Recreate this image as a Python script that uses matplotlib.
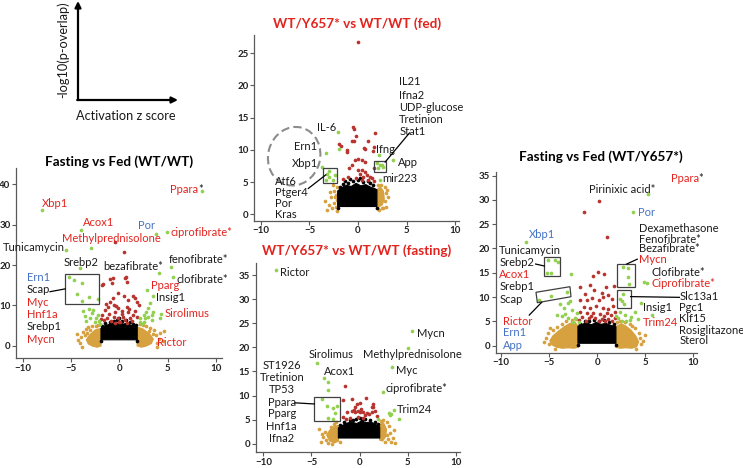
import matplotlib
matplotlib.use('Agg')
import matplotlib.pyplot as plt
from matplotlib.patches import Rectangle, Polygon, Ellipse
from matplotlib.transforms import ScaledTranslation

plt.rcParams['font.family'] = ['Lato', 'DejaVu Sans']

# ---------------- data ----------------
# Panel 1: Fasting vs Fed (WT/WT)
p1_green_x = [8.6, -8.0, -3.96, 3.83, 4.9, -5.55, -2.93, -4.1, 4.1, 5.35, 5.6,
              -5.2, -4.7, -3.86, -4.4, -3.1, -3.9, -2.24,
              2.9, 3.45, 3.2, 3.0, 2.76, 2.5, 2.1, 2.66, 3.0, 3.35, 3.5, 2.5, 2.1, 4.3, 4.2, 3.35, 2.3,
              -3.8, -3.1, -2.85, -2.7, -2.4, -3.0, -2.07, -3.4, -2.55, -2.2, -3.6, -2.0]
p1_green_y = [38.2, 33.5, 28.7, 27.7, 28.2, 23.6, 24.3, 19.2, 18.0, 19.4, 17.1,
              17.0, 16.3, 15.6, 12.8, 12.2, 11.0, 11.7,
              13.8, 12.3, 10.5, 9.3, 8.4, 7.6, 6.8, 6.8, 7.2, 7.6, 8.4, 6.0, 5.8, 8.0, 7.0, 6.3, 5.4,
              8.7, 9.0, 8.2, 8.9, 6.8, 6.8, 6.2, 6.2, 6.0, 7.6, 7.4, 5.3]
p1_red_x = [-0.5, 0.5, -1.8, -1.7, -1.0, -0.7, -0.8, 0.6, 0.8, 0.7, -0.1, 1.45, 1.6, -1.0, -0.6, 0.9,
            1.8, 2.0, 0.8, -0.1, -1.5, -1.1, -0.4, 0.25, 0.9, 1.45, 1.8, -1.8, -1.3, -0.6, -0.1, 0.4,
            1.1, -1.6, -0.9, 0.1, 0.6, 1.3, -1.2, -0.3, 0.3, 1.0, 1.6, -1.9, -0.7, 0.5, -1.4, 0.0, 0.8, -0.5]
p1_red_y = [25.6, 23.2, 15.1, 15.3, 16.5, 16.7, 15.5, 16.7, 15.9, 17.0, 13.2, 12.3, 11.8, 10.9, 10.1, 11.3,
            10.9, 10.1, 9.7, 9.3, 8.9, 8.0, 8.4, 8.0, 8.4, 7.6, 7.2, 7.6, 6.8, 7.2, 6.8, 7.2,
            6.8, 6.3, 6.2, 6.0, 6.4, 6.1, 9.5, 9.8, 8.7, 9.1, 8.6, 6.6, 11.9, 12.4, 10.4, 5.9, 5.6, 5.7]
p1_orange_x = [-4.3, -4.0, -4.4, -3.8, -3.5, -3.2, -2.8, -2.4, -4.1, -3.9, -2.2, -3.0, -3.6, -3.3,
               3.9, 4.1, 3.8, 4.2, 3.6, 3.2, 2.8, 2.4, 4.6, 4.5, 3.9, 2.1, 3.5, 3.1]
p1_orange_y = [1.5, 2.2, 3.0, 3.5, 4.2, 4.6, 5.0, 4.8, 0.6, -0.2, 5.2, 4.0, 2.6, 3.3,
               0.8, 1.6, 2.6, 3.3, 3.9, 4.3, 4.8, 5.1, 3.6, 1.2, -0.2, 5.3, 2.9, 3.7]
p1_orcore_l_x = [-1.9, -1.9, -2.3, -2.8, -3.2, -3.4, -3.1, -2.5]
p1_orcore_l_y = [4.3, 0.0, -0.3, 0.0, 0.5, 1.5, 2.6, 3.9]
p1_orcore_r_x = [1.85, 1.85, 2.3, 2.8, 3.3, 3.5, 3.1, 2.4]
p1_orcore_r_y = [4.6, 0.0, -0.3, 0.0, 0.6, 1.7, 3.0, 4.2]
p1_core_x = [-1.9, -1.9, -1.6, -1.2, -0.8, -0.4, 0.0, 0.4, 0.8, 1.2, 1.5, 1.85, 1.85]
p1_core_y = [1.5, 4.3, 4.9, 5.2, 5.6, 5.3, 5.8, 5.4, 5.6, 5.1, 4.9, 4.6, 1.5]
p1_black_x = [-1.5, -1.0, -0.6, -0.2, 0.3, 0.7, 1.1, 1.4, -1.8, 1.7, 0.0, -1.9, 1.85]
p1_black_y = [5.6, 6.0, 6.2, 6.4, 6.1, 6.3, 5.8, 5.5, 5.0, 5.2, 6.8, 1.1, 1.1]

# Panel 2: WT/Y657* vs WT/WT (fed)
p2_green_x = [-2.1, -2.0, -3.3, -3.7, -2.96, -3.16, -2.96, -3.3, -2.4, -2.6,
              2.2, 2.0, 2.3, 2.5, 2.1, 2.6, 3.57, 2.27]
p2_green_y = [12.7, 10.1, 9.5, 7.3, 6.7, 6.3, 5.8, 5.3, 6.1, 5.3,
              9.2, 7.9, 7.6, 7.7, 7.2, 7.4, 8.4, 5.3]
p2_red_x = [-0.03, -0.48, -0.2, 1.75, -1.93, -1.8, -0.65, 1.06, -1.17, 0.72, 1.65, -0.3, 0.05, 0.4, 0.7,
            -0.65, 0.38, 0.72, 0.9, 1.2, 0.55, 0.2, 1.4, 1.06, 0.38, -1.0, -0.38, -1.17, 0.62, 1.58,
            -0.4, 1.6, -0.9, -1.5, 1.7, 0.0, -0.2]
p2_red_y = [26.7, 13.6, 12.2, 12.6, 10.9, 10.6, 11.3, 11.3, 10.0, 10.1, 10.5, 8.4, 8.5, 8.4, 8.1,
            7.65, 6.9, 6.6, 6.1, 5.85, 5.85, 6.3, 5.6, 5.3, 5.3, 5.85, 13.2, 9.7, 10.2, 9.8,
            11.4, 7.2, 7.1, 5.4, 5.2, 6.9, 5.6]
p2_orange_x = [-2.2, -2.5, -2.3, -2.8, -2.2, -2.5, -3.0, -2.3, -2.7, -3.2, -2.2, -2.6, -3.4, -2.9, -2.4,
               2.1, 2.4, 2.8, 2.9, 2.8, 2.9, 2.5, 2.2, 3.1, 2.6, 2.0, 3.0]
p2_orange_y = [4.2, 3.6, 3.0, 2.6, 2.2, 1.8, 1.5, 1.2, 0.9, 0.6, 0.5, 4.5, 2.0, 3.4, 2.6,
               4.5, 4.6, 4.2, 3.3, 2.0, 1.2, 0.9, 0.7, 2.7, 1.0, 0.9, 3.8]
p2_orcore_r_x = [1.95, 1.95, 2.3, 2.6, 2.7, 2.5, 2.2]
p2_orcore_r_y = [1.4, 3.8, 4.2, 3.6, 2.4, 1.5, 1.2]
p2_core_x = [-2.1, -2.1, -1.7, -1.2, -0.7, -0.2, 0.3, 0.8, 1.3, 1.7, 1.95, 1.95]
p2_core_y = [1.2, 3.6, 4.1, 4.5, 4.3, 4.8, 4.4, 4.6, 4.2, 4.0, 3.8, 1.2]
p2_black_x = [-1.9, -1.5, -1.0, -0.5, 0.0, 0.5, 1.0, 1.5, -0.8, 0.2, -2.1, 1.95, -1.3, 1.2]
p2_black_y = [4.2, 4.7, 4.9, 5.1, 5.3, 5.0, 5.1, 4.6, 5.4, 5.6, 0.9, 0.9, 5.2, 4.8]

# Panel 3: WT/Y657* vs WT/WT (fasting)
p3_green_x = [-8.68, 5.49, 5.07, -4.39, 3.41, -3.66, -3.24, -3.3, 2.48,
              -3.9, -3.35, -2.75, -2.3, -2.55, -3.3, -2.75,
              3.59, 3.1, 3.16, 4.1, 1.95, 3.24]
p3_green_y = [35.95, 23.4, 19.8, 16.8, 15.85, 13.6, 12.9, 11.2, 10.7,
              9.3, 7.85, 7.4, 7.9, 6.3, 5.3, 5.2,
              7.1, 6.4, 5.9, 5.2, 5.2, 6.1]
p3_red_x = [-1.55, -1.75, 0.64, -0.3, -0.81, -0.5, -0.15, 0.0, 1.43, 1.27, -1.35, -1.75, -1.4, 0.62,
            0.95, 1.78, -0.81, 0.05, -0.47, 0.2, 0.4, 1.27, -1.0, -0.6, 0.75, 1.6, 1.45, -0.2, 0.4]
p3_red_y = [12.07, 9.0, 9.5, 8.3, 6.9, 6.7, 6.9, 6.5, 7.7, 6.55, 6.5, 5.65, 5.2, 5.9,
            6.2, 5.7, 9.3, 8.4, 7.6, 7.3, 6.55, 7.6, 5.4, 7.0, 6.3, 6.9, 8.3, 5.5, 5.3]
p3_orange_x = [-3.6, -3.8, -4.2, -3.5, -3.0, -2.7, -2.4, -4.0, -3.3, -2.0, -3.9, -2.9,
               2.9, 3.1, 3.2, 3.5, 3.0, 2.6, 3.3, 2.2, 3.6, 2.9, 3.7, 2.4]
p3_orange_y = [2.4, 1.5, 3.0, 0.8, 3.4, 4.2, 4.6, 0.3, 0.1, 0.3, 2.0, 0.0,
               4.6, 3.6, 2.2, 1.3, 0.9, 0.3, 0.4, 4.7, 2.8, 1.9, 0.2, 5.0]
p3_orcore_l_x = [-2.2, -2.2, -2.6, -3.1, -3.4, -3.1, -2.6]
p3_orcore_l_y = [3.8, 0.6, 0.2, 0.6, 1.8, 2.8, 3.6]
p3_orcore_r_x = [2.1, 2.1, 2.5, 2.8, 2.7, 2.4]
p3_orcore_r_y = [0.8, 4.0, 4.3, 3.0, 1.5, 0.6]
p3_core_x = [-2.2, -2.2, -1.8, -1.3, -0.8, -0.3, 0.2, 0.7, 1.2, 1.7, 2.1, 2.1]
p3_core_y = [1.2, 3.3, 3.8, 4.3, 4.5, 4.2, 4.7, 4.4, 4.5, 4.0, 3.5, 1.2]
p3_black_x = [-1.6, -1.0, -0.4, 0.1, 0.6, 1.1, 1.6, -2.0, 1.9, -0.7, 0.3]
p3_black_y = [4.6, 5.0, 5.2, 5.4, 5.1, 5.0, 4.6, 4.0, 4.2, 4.9, 4.9]

# Panel 4: Fasting vs Fed (WT/Y657*)
p4_green_x = [5.33, 3.77, -7.42,
              -5.07, -4.38, -4.1, -5.25, -4.8, -2.73,
              -6.0, -4.8, -3.15,
              2.67, 3.25, 3.25, 3.32,
              2.65, 2.37, 2.54, 2.79,
              4.92, 5.15, 4.55, 5.67,
              -3.87, -3.0, -3.5, -2.63, -2.1, -4.2, -3.7, -3.0, -2.3, -1.94, -2.5, -3.3, -2.8,
              2.39, 2.9, 3.4, 2.2, 3.0, 3.55, 3.9, 2.0, 2.6, 4.2]
p4_green_y = [31.15, 27.6, 21.3,
              17.6, 17.6, 17.3, 15.0, 14.9, 14.7,
              9.3, 10.2, 11.1,
              16.1, 15.9, 14.2, 12.6,
              10.6, 9.6, 9.2, 8.5,
              13.05, 12.9, 8.7, 6.3,
              8.6, 8.85, 7.7, 7.35, 6.8, 6.3, 6.1, 5.8, 5.8, 4.9, 4.8, 6.6, 9.2,
              7.0, 6.3, 5.3, 5.6, 5.0, 6.0, 7.0, 6.2, 5.1, 5.5]
p4_red_x = [0.24, -1.32, 1.0, 0.05, 0.74, -1.78, -0.75, -0.3, 0.48, 1.17, 1.7, -1.78, -1.07, 0.15, 0.65,
            1.5, -1.42, -0.75, -0.07, 0.62, 1.1, 1.6, -1.78, -1.1, -0.4, 0.3, 1.0, 1.45, -1.6, -0.9,
            -0.2, 0.5, 1.15, 1.85, -0.4, -1.3, 0.9, -0.5, 1.9, -1.9, -1.2, 0.2, 0.8, 1.5, -0.6, 0.7]
p4_red_y = [29.8, 27.6, 22.4, 15.2, 14.75, 12.1, 12.5, 11.5, 10.8, 10.4, 12.3, 9.4, 9.4, 9.4, 10.1,
            9.7, 8.0, 7.8, 8.2, 7.8, 7.5, 8.1, 7.0, 6.7, 6.7, 6.6, 6.7, 6.4, 6.0, 5.6,
            5.6, 5.4, 5.4, 5.8, 14.4, 10.6, 12.0, 9.9, 7.0, 5.2, 5.1, 5.0, 5.1, 5.0, 6.2, 6.1]
p4_orange_x = [-5.1, -5.3, -5.0, -4.6, -4.2, -3.7, -3.2, -2.6, -2.2, -5.5, -4.4, -4.9,
               4.5, 4.6, 4.3, 3.9, 3.4, 2.9, 2.4, 4.8, 4.0, 5.0, 3.6, 2.1]
p4_orange_y = [2.6, 1.5, 0.4, 3.2, 3.9, 4.5, 5.0, 5.3, 5.4, 0.8, -0.6, 3.6,
               1.6, 0.4, 2.7, 3.6, 4.4, 4.8, 5.0, 1.0, -0.6, 2.2, 4.0, 4.8]
p4_orcore_l_x = [-2.0, -2.0, -2.4, -3.0, -3.6, -4.2, -4.7, -4.9, -4.6, -4.0, -3.4, -2.8, -2.3]
p4_orcore_l_y = [4.0, -0.3, -0.5, -0.4, -0.5, -0.3, 0.2, 1.0, 2.0, 3.0, 3.9, 4.6, 4.8]
p4_orcore_r_x = [1.95, 1.95, 2.4, 3.0, 3.6, 4.1, 4.3, 4.0, 3.5, 3.0, 2.5]
p4_orcore_r_y = [3.9, -0.3, -0.5, -0.4, -0.5, -0.2, 0.8, 2.0, 3.2, 4.0, 4.5]
p4_core_x = [-2.0, -2.0, -1.6, -1.1, -0.6, -0.1, 0.4, 0.9, 1.4, 1.95, 1.95]
p4_core_y = [0.5, 4.0, 4.4, 4.7, 4.3, 4.8, 4.4, 4.6, 4.2, 3.9, 0.5]
p4_black_x = [-1.8, -1.3, -0.8, -0.3, 0.2, 0.7, 1.2, 1.7, -2.0, 1.95]
p4_black_y = [4.5, 5.0, 5.1, 5.3, 5.0, 5.2, 4.9, 4.5, 0.2, 0.2]

x_ticks = [-10, -5, 0, 5, 10]
p1_yticks = [0, 10, 20, 30, 40]
p2_yticks = [0, 5, 10, 15, 20, 25]
p3_yticks = [0, 5, 10, 15, 20, 25, 30, 35]
p4_yticks = [0, 5, 10, 15, 20, 25, 30, 35]

titles = ["Fasting vs Fed (WT/WT)", "WT/Y657* vs WT/WT (fed)",
          "WT/Y657* vs WT/WT (fasting)", "Fasting vs Fed (WT/Y657*)"]

# ---------------- styles ----------------
GREEN = '#92D050'
DRED = '#B8342E'
ORANGE = '#D6A13E'
TRED = '#E3231E'
TBLUE = '#4472C4'
TBLK = '#1A1A1A'
AXC = '#595959'
LFS = 8.0
DOT = 7

W, H = 743, 468
fig = plt.figure(figsize=(W / 100, H / 100), dpi=100)


def px_rect(l, r, t, b):
    return [l / W, 1 - b / H, (r - l) / W, (b - t) / H]


ov = fig.add_axes([0, 0, 1, 1])
ov.set_xlim(0, W)
ov.set_ylim(H, 0)
ov.axis('off')

# schematic
ov.annotate('', xy=(78, 1), xytext=(78, 100),
            arrowprops=dict(arrowstyle='-|>', color='black', lw=1.6, mutation_scale=9, shrinkA=0, shrinkB=0))
ov.annotate('', xy=(178, 100), xytext=(77.2, 100),
            arrowprops=dict(arrowstyle='-|>', color='black', lw=1.6, mutation_scale=9, shrinkA=0, shrinkB=0))
ov.text(63, 50, '-log10(p-overlap)', rotation=90, ha='center', va='center', fontsize=9.2, color=TBLK)
ov.text(126, 116, 'Activation z score', ha='center', va='center', fontsize=9.2, color=TBLK)

title_pos = [(119, 162, 'black'), (357, 24, TRED), (357, 251, TRED), (601, 157, 'black')]
for t, (tx, ty, tc) in zip(titles, title_pos):
    ov.text(tx, ty, t, ha='center', va='center', fontsize=9.7, fontweight='bold', color=tc)


def make_ax(rect, xl, yl, yt):
    ax = fig.add_axes(rect)
    ax.set_facecolor('none')
    ax.set_xlim(*xl)
    ax.set_ylim(*yl)
    ax.set_xticks(x_ticks)
    ax.set_yticks(yt)
    for s in ['top', 'right']:
        ax.spines[s].set_visible(False)
    for s in ['left', 'bottom']:
        ax.spines[s].set_color(AXC)
        ax.spines[s].set_linewidth(0.9)
    ax.tick_params(direction='out', length=3, width=0.8, color=AXC, labelsize=7, pad=1,
                   labelcolor='#222222')
    for lab in ax.get_xticklabels() + ax.get_yticklabels():
        lab.set_fontweight('bold')
    return ax


def draw_points(ax, core_x, core_y, black_x, black_y, orcores, orange_x, orange_y,
                red_x, red_y, green_x, green_y):
    for cx, cy in orcores:
        ax.add_patch(Polygon(list(zip(cx, cy)), closed=True, fc=ORANGE, ec=ORANGE, lw=1.0, zorder=2))
    ax.scatter(orange_x, orange_y, s=DOT, c=ORANGE, linewidths=0, zorder=2)
    ax.add_patch(Polygon(list(zip(core_x, core_y)), closed=True, fc='black', ec='black', lw=0.8, zorder=3))
    ax.scatter(black_x, black_y, s=DOT, c='black', linewidths=0, zorder=3)
    ax.scatter(red_x, red_y, s=DOT, c=DRED, linewidths=0, zorder=4)
    ax.scatter(green_x, green_y, s=DOT, c=GREEN, linewidths=0, zorder=5)


def label(ax, txt, x, y, color=TBLK, ha='left', star=False):
    t = ax.text(x, y, txt, ha=ha, va='center', fontsize=LFS, color=color, zorder=6)
    if star:
        ax.annotate('*', xy=(1, 0.5), xycoords=t, ha='left', va='center', fontsize=LFS, color=TBLK)
    return t


def box(ax, x0, x1, y0, y1):
    ax.add_patch(Rectangle((x0, y0), x1 - x0, y1 - y0, fill=False, ec='#404040', lw=0.9, zorder=6))


def line(ax, x0, y0, x1, y1):
    ax.plot([x0, x1], [y0, y1], color='black', lw=0.9, zorder=6)


# ---------- panel 1 ----------
ax1 = make_ax(px_rect(16, 222, 168, 358), (-10.69, 10.62), (-3.0, 44.0), p1_yticks)
draw_points(ax1, p1_core_x, p1_core_y, p1_black_x, p1_black_y,
            [(p1_orcore_l_x, p1_orcore_l_y), (p1_orcore_r_x, p1_orcore_r_y)],
            p1_orange_x, p1_orange_y, p1_red_x, p1_red_y, p1_green_x, p1_green_y)
label(ax1, 'Ppara', 5.24, 38.6, TRED, star=True)
label(ax1, 'Xbp1', -7.96, 35.3, TRED)
label(ax1, 'Acox1', -3.79, 30.4, TRED)
label(ax1, 'Por', 1.97, 29.8, TBLUE)
label(ax1, 'ciprofibrate*', 5.31, 28.1, TRED)
label(ax1, 'Methylprednisolone', -5.96, 26.5, TRED)
label(ax1, 'Tunicamycin', -12.0, 24.3)
label(ax1, 'Srebp2', -5.79, 20.7)
label(ax1, 'bezafibrate*', -1.65, 19.6)
label(ax1, 'fenofibrate*', 5.07, 21.3)
label(ax1, 'clofibrate*', 5.94, 16.5)
for txt, yy, col in [('Ern1', 17.0, TBLUE), ('Scap', 13.85, TBLK), ('Myc', 10.7, TRED),
                     ('Hnf1a', 7.8, TRED), ('Srebp1', 4.7, TBLK), ('Mycn', 1.6, TRED)]:
    label(ax1, txt, -9.58, yy, col)
label(ax1, 'Pparg', 3.25, 14.9, TRED)
label(ax1, 'Insig1', 3.8, 12.0)
label(ax1, 'Sirolimus', 4.65, 8.0, TRED)
label(ax1, 'Rictor', 3.93, 0.8, TRED)
box(ax1, -5.6, -2.07, 10.3, 17.7)
line(ax1, -7.17, 13.4, -5.6, 14.1)

# ---------- panel 2 ----------
ax2 = make_ax(px_rect(254, 459, 35, 220.7), (-10.72, 10.41), (-1.0, 27.8), p2_yticks)
draw_points(ax2, p2_core_x, p2_core_y, p2_black_x, p2_black_y,
            [(p2_orcore_r_x, p2_orcore_r_y)],
            p2_orange_x, p2_orange_y, p2_red_x, p2_red_y, p2_green_x, p2_green_y)
label(ax2, 'IL-6', -4.2, 13.5)
label(ax2, 'Ern1', -6.6, 10.5)
label(ax2, 'Xbp1', -6.84, 7.9)
for txt, yy in [('Atf6', 5.06), ('Ptger4', 3.36), ('Por', 1.6), ('Kras', -0.1)]:
    label(ax2, txt, -8.56, yy)
for txt, yy in [('IL21', 20.6), ('Ifna2', 18.4), ('UDP-glucose', 16.55), ('Tretinion', 14.75), ('Stat1', 12.9)]:
    label(ax2, txt, 4.26, yy)
label(ax2, 'Ifng', 1.86, 10.1)
label(ax2, 'App', 4.09, 8.1)
label(ax2, 'mir223', 2.54, 5.5)
box(ax2, -3.6, -2.2, 4.9, 7.1)
box(ax2, 1.65, 2.85, 6.5, 8.3)
line(ax2, -5.12, 4.0, -3.33, 6.1)
line(ax2, 5.3, 12.6, 2.8, 8.1)
ell = Ellipse((0, 0), width=0.52, height=0.59, angle=-15, fill=False, ec='#8C8C8C', lw=1.5,
              ls=(0, (4, 2)), transform=fig.dpi_scale_trans + ScaledTranslation(-6.58, 9.0, ax2.transData))
ax2.add_patch(ell)

# ---------- panel 3 ----------
ax3 = make_ax(px_rect(255.7, 460, 263, 452), (-10.8, 10.45), (-1.7, 37.5), p3_yticks)
draw_points(ax3, p3_core_x, p3_core_y, p3_black_x, p3_black_y,
            [(p3_orcore_l_x, p3_orcore_l_y), (p3_orcore_r_x, p3_orcore_r_y)],
            p3_orange_x, p3_orange_y, p3_red_x, p3_red_y, p3_green_x, p3_green_y)
label(ax3, 'Rictor', -8.26, 35.5)
label(ax3, 'Mycn', 5.94, 22.9)
label(ax3, 'Sirolimus', -5.25, 18.5)
label(ax3, 'Methylprednisolone', 0.33, 18.5)
label(ax3, 'Myc', 3.76, 15.3)
label(ax3, 'Acox1', -3.66, 14.95)
label(ax3, 'ciprofibrate*', 2.75, 11.4)
label(ax3, 'Trim24', 3.93, 7.2)
for txt, yy in [('ST1926', 16.2), ('Tretinion', 13.65), ('TP53', 11.2), ('Ppara', 8.6),
                ('Pparg', 6.2), ('Hnf1a', 3.6), ('Ifna2', 1.03)]:
    label(ax3, txt, -8.09, yy, ha='center')
box(ax3, -4.7, -2.03, 4.8, 9.8)
line(ax3, -6.7, 8.5, -4.7, 8.26)

# ---------- panel 4 ----------
ax4 = make_ax(px_rect(495.7, 696.7, 171.7, 352.7), (-10.55, 10.35), (-1.44, 35.8), p4_yticks)
draw_points(ax4, p4_core_x, p4_core_y, p4_black_x, p4_black_y,
            [(p4_orcore_l_x, p4_orcore_l_y), (p4_orcore_r_x, p4_orcore_r_y)],
            p4_orange_x, p4_orange_y, p4_red_x, p4_red_y, p4_green_x, p4_green_y)
label(ax4, 'Ppara', 7.64, 34.4, TRED, star=True)
label(ax4, 'Pirinixic acid*', -0.82, 32.2)
label(ax4, 'Por', 4.24, 27.4, TBLUE)
label(ax4, 'Xbp1', -7.06, 22.8, TBLUE)
for txt, yy, col in [('Dexamethasone', 24.15, TBLK), ('Fenofibrate*', 21.95, TBLK),
                     ('Bezafibrate*', 19.9, TBLK), ('Mycn', 17.8, TRED)]:
    label(ax4, txt, 4.31, yy, col)
label(ax4, 'Clofibrate*', 5.7, 15.0)
label(ax4, 'Ciprofibrate*', 5.7, 12.8, TRED)
for txt, yy, col in [('Tunicamycin', 19.55, TBLK), ('Srebp2', 17.1, TBLK), ('Acox1', 14.55, TRED),
                     ('Srebp1', 12.15, TBLK), ('Scap', 9.6, TBLK)]:
    label(ax4, txt, -10.18, yy, col)
for txt, yy, col in [('Rictor', 4.94, TRED), ('Ern1', 2.7, TBLUE), ('App', 0.14, TBLUE)]:
    label(ax4, txt, -9.82, yy, col)
label(ax4, 'Insig1', 4.73, 7.9)
label(ax4, 'Trim24', 4.8, 4.8, TRED)
for txt, yy in [('Slc13a1', 10.2), ('Pgc1', 7.76), ('Klf15', 5.5), ('Rosiglitazone', 3.2), ('Sterol', 0.97)]:
    label(ax4, txt, 8.55, yy)
box(ax4, -5.5, -3.85, 14.4, 18.3)
ax4.add_patch(Polygon([(-6.36, 10.99), (-2.83, 12.14), (-2.72, 10.08), (-6.22, 8.85)], closed=True,
                      fill=False, ec='#404040', lw=0.9, zorder=6))
box(ax4, 2.09, 3.95, 12.1, 16.8)
box(ax4, 2.09, 3.48, 7.7, 11.46)
line(ax4, -6.4, 16.8, -5.5, 16.4)
line(ax4, -5.77, 8.93, -7.06, 6.3)
line(ax4, 3.07, 16.8, 4.17, 17.8)
line(ax4, 3.48, 10.1, 8.55, 9.95)

fig.savefig('out.png', dpi=100)
